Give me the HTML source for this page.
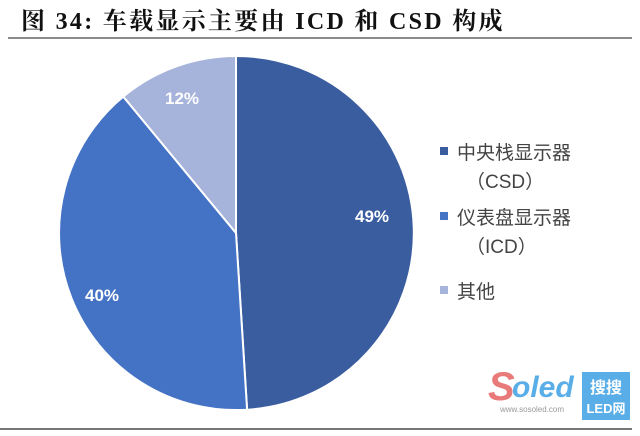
<!DOCTYPE html>
<html><head><meta charset="utf-8"><style>
body{margin:0;background:#fff;width:640px;height:431px;overflow:hidden}
</style></head><body>
<svg width="640" height="431" viewBox="0 0 640 431" xmlns="http://www.w3.org/2000/svg">
<text x="21" y="29" font-family="'Liberation Serif','Noto Serif CJK SC',serif" font-weight="bold" font-size="24" letter-spacing="2.3" fill="#111">图 34:  车载显示主要由 ICD 和 CSD 构成</text>
<rect x="8" y="37" width="624" height="2" fill="#8a8a8a"/>
<g stroke="#fff" stroke-width="2">
<path d="M236,233 L236,56 A177,177 0 0 1 247.1,409.7 Z" fill="#3a5da0"/>
<path d="M236,233 L247.1,409.7 A177,177 0 0 1 123.3,96.6 Z" fill="#4472c4"/>
<path d="M236,233 L123.3,96.6 A177,177 0 0 1 236,56 Z" fill="#a6b3da"/>
</g>
<g font-family="'Liberation Sans','Noto Sans CJK SC',sans-serif" font-weight="bold" font-size="17" fill="#fff" text-anchor="middle">
<text x="372" y="222">49%</text>
<text x="102" y="301">40%</text>
<text x="182" y="104">12%</text>
</g>
<g font-family="'Liberation Sans','Noto Sans CJK SC',sans-serif" font-size="19" fill="#444">
<rect x="440" y="147" width="8" height="8" fill="#3a5da0"/>
<text x="457" y="159">中央栈显示器</text>
<text x="466" y="188">（CSD）</text>
<rect x="440" y="212" width="8" height="8" fill="#4472c4"/>
<text x="457" y="224">仪表盘显示器</text>
<text x="466" y="253">（ICD）</text>
<rect x="440" y="286" width="8" height="8" fill="#a6b3da"/>
<text x="457" y="298">其他</text>
</g>
<text x="488" y="400" font-family="'Liberation Sans',sans-serif" font-weight="bold" font-style="italic" font-size="40" fill="#e87a7a">S</text>
<text x="512" y="397" font-family="'Liberation Sans',sans-serif" font-weight="bold" font-style="italic" font-size="30" fill="#5aaee8">oled</text>
<rect x="582" y="372" width="48" height="48" fill="#5aaee8"/>
<text x="606" y="393" font-family="'Noto Sans CJK SC',sans-serif" font-weight="bold" font-size="16" fill="#fff" text-anchor="middle">搜搜</text>
<text x="606" y="413" font-family="'Liberation Sans','Noto Sans CJK SC',sans-serif" font-weight="bold" font-size="13" fill="#fff" text-anchor="middle">LED网</text>
<text x="500" y="412" font-family="'Liberation Sans',sans-serif" font-size="8" fill="#999">www.sosoled.com</text>
<rect x="0" y="428" width="632" height="2" fill="#777"/>
</svg>
</body></html>
